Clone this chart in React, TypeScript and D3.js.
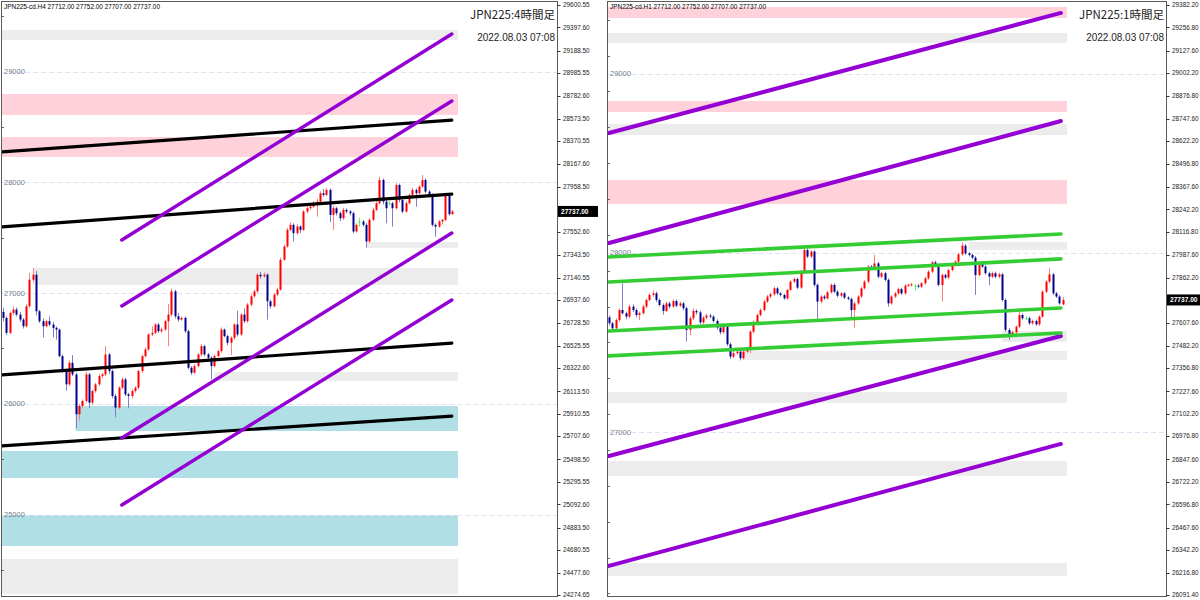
import React from 'react';
import * as d3 from 'd3';

type Candle = [number, number, number, number]; // open, high, low, close

// ---------------- H4 (left) ----------------
const H4_CANDLES: Candle[] = [
  [26830, 26866, 26745, 26776], [26776, 26790, 26620, 26641], [26641, 26835, 26630, 26821], [26821, 26880, 26800, 26851],
  [26851, 26870, 26790, 26806], [26806, 26830, 26740, 26761], [26761, 26775, 26680, 26701], [26701, 26900, 26690, 26881],
  [26881, 27180, 26870, 27121], [27121, 27226, 27100, 27166], [27166, 27200, 26800, 26836], [26836, 26850, 26730, 26746],
  [26746, 26770, 26600, 26701], [26701, 26760, 26690, 26746], [26746, 26790, 26700, 26716], [26716, 26740, 26600, 26686],
  [26686, 26700, 26580, 26671], [26671, 26680, 26420, 26431], [26431, 26445, 26280, 26296], [26296, 26310, 26120, 26176],
  [26176, 26390, 26160, 26371], [26371, 26440, 26250, 26266], [26266, 26280, 25780, 25906], [25906, 26000, 25850, 25981],
  [25981, 26040, 25960, 26026], [26026, 26290, 26010, 26266], [26266, 26280, 25960, 26011], [26011, 26130, 25990, 26116],
  [26116, 26190, 26100, 26176], [26176, 26270, 26160, 26251], [26251, 26280, 26230, 26266], [26266, 26520, 26250, 26446],
  [26446, 26460, 26270, 26296], [26296, 26310, 26050, 26071], [26071, 26090, 25880, 25966], [25966, 26160, 25950, 26146],
  [26146, 26240, 26130, 26221], [26221, 26235, 26070, 26086], [26086, 26100, 25960, 26071], [26071, 26130, 26050, 26116],
  [26116, 26160, 26100, 26146], [26146, 26310, 26130, 26296], [26296, 26445, 26280, 26431], [26431, 26510, 26420, 26491],
  [26491, 26640, 26480, 26626], [26626, 26700, 26610, 26641], [26641, 26730, 26630, 26716], [26716, 26730, 26640, 26656],
  [26656, 26690, 26640, 26671], [26671, 26760, 26660, 26746], [26746, 26900, 26520, 26806], [26806, 27040, 26790, 27016],
  [27016, 27030, 26770, 26791], [26791, 26820, 26740, 26761], [26761, 26790, 26750, 26776], [26776, 26790, 26640, 26656],
  [26656, 26670, 26310, 26326], [26326, 26340, 26260, 26281], [26281, 26360, 26270, 26341], [26341, 26460, 26330, 26446],
  [26446, 26540, 26430, 26521], [26521, 26535, 26430, 26446], [26446, 26460, 26400, 26416], [26416, 26430, 26220, 26341],
  [26341, 26445, 26330, 26431], [26431, 26490, 26420, 26476], [26476, 26690, 26460, 26671], [26671, 26680, 26600, 26611],
  [26611, 26625, 26530, 26551], [26551, 26610, 26440, 26596], [26596, 26730, 26580, 26716], [26716, 26840, 26610, 26626],
  [26626, 26820, 26610, 26806], [26806, 26860, 26730, 26746], [26746, 26910, 26730, 26896], [26896, 26990, 26880, 26971],
  [26971, 27030, 26960, 27016], [27016, 27180, 27000, 27166], [27166, 27190, 27130, 27151], [27151, 27185, 27140, 27166],
  [27166, 27180, 26760, 26926], [26926, 26940, 26860, 26881], [26881, 27000, 26870, 26986], [26986, 27050, 26970, 27031],
  [27031, 27320, 27020, 27301], [27301, 27440, 27290, 27421], [27421, 27590, 27410, 27571], [27571, 27640, 27560, 27616],
  [27616, 27630, 27466, 27541], [27541, 27620, 27530, 27601], [27601, 27615, 27540, 27571], [27571, 27750, 27560, 27736],
  [27736, 27790, 27720, 27766], [27766, 27800, 27750, 27781], [27781, 27830, 27770, 27811], [27811, 27850, 27690, 27826],
  [27826, 27920, 27810, 27901], [27901, 27940, 27870, 27886], [27886, 27950, 27875, 27931], [27931, 27945, 27640, 27706],
  [27706, 27790, 27570, 27766], [27766, 27780, 27700, 27721], [27721, 27735, 27650, 27676], [27676, 27770, 27660, 27751],
  [27751, 27765, 27720, 27736], [27736, 27750, 27700, 27721], [27721, 27735, 27540, 27556], [27556, 27630, 27545, 27616],
  [27646, 27680, 27600, 27646], [27646, 27660, 27600, 27616], [27616, 27630, 27410, 27466], [27466, 27680, 27450, 27661],
  [27661, 27770, 27650, 27751], [27751, 27830, 27740, 27811], [27811, 28050, 27800, 28021], [28021, 28035, 27800, 27826],
  [27826, 27840, 27630, 27766], [27811, 27830, 27790, 27811], [27811, 27825, 27600, 27766], [27766, 27990, 27755, 27976],
  [27976, 27990, 27820, 27841], [27841, 27855, 27720, 27736], [27736, 27830, 27725, 27811], [27811, 27900, 27800, 27886],
  [27886, 27950, 27875, 27931], [27931, 27945, 27780, 27901], [27901, 27975, 27890, 27961], [27961, 28066, 27950, 28021],
  [28021, 28035, 27900, 27916], [27916, 27930, 27870, 27886], [27886, 27900, 27600, 27616], [27616, 27630, 27510, 27601],
  [27601, 27660, 27590, 27646], [27646, 27670, 27620, 27661], [27661, 27900, 27650, 27880], [27880, 27895, 27700, 27712],
  [27712, 27752, 27707, 27737],
];

const H4_PRICE_TICKS = [29600.55, 29397.60, 29188.50, 28985.55, 28782.60, 28573.50, 28370.55, 28167.60, 27958.50,
  27552.60, 27343.50, 27140.55, 26937.60, 26728.50, 26525.55, 26322.60, 26113.50, 25910.55, 25707.60, 25498.50,
  25295.55, 25092.60, 24883.50, 24680.55, 24477.60, 24274.65];
const H4_GRID = [29000, 28000, 27000, 26000, 25000];
const H4_EDGE_TICKS = [29500, 28500, 27500, 26500, 25500, 24500];
const H4_ZONE_LOW = [29285, 28608, 28229, 27407, 27073, 26207, 25755, 25331, 24717, 24285];
const H4_ZONE_HIGH = [29375, 28797, 28409, 27461, 27226, 26288, 25981, 25575, 24997, 24600];
const H4_ZONE_FROM = [-1, -1, -1, 110, 9, 64, 22, -1, -1, -1];
const H4_ZONE_KIND = ['neutral', 'supply', 'supply', 'neutral', 'neutral', 'neutral', 'demand', 'demand', 'demand', 'neutral'];
// trend lines: [startIndex, startPrice, endIndex, endPrice]
const H4_LEVEL_LINES: [number, number, number, number][] = [
  [-1, 28274, 136, 28562], [-1, 27597, 136, 27894], [-1, 26261, 136, 26549], [-1, 25620, 136, 25890],
];
const H4_CHANNEL_LINES: [number, number, number, number][] = [
  [36, 27479, 136, 29339], [36, 26884, 136, 28734], [36, 25692, 136, 27542], [36, 25087, 136, 26938],
];

// ---------------- H1 (right) ----------------
const H1_CANDLES: Candle[] = [
  [27640, 27650, 27595, 27607], [27607, 27615, 27560, 27579], [27579, 27635, 27570, 27625], [27625, 27690, 27615, 27681],
  [27681, 27830, 27655, 27663], [27663, 27672, 27630, 27644], [27644, 27710, 27635, 27700], [27700, 27712, 27670, 27681],
  [27681, 27690, 27640, 27653], [27653, 27672, 27625, 27663], [27663, 27710, 27655, 27700], [27700, 27745, 27690, 27737],
  [27737, 27775, 27728, 27765], [27765, 27790, 27755, 27774], [27774, 27784, 27725, 27737], [27737, 27745, 27700, 27709],
  [27709, 27718, 27655, 27676], [27676, 27728, 27668, 27718], [27718, 27728, 27690, 27700], [27700, 27740, 27692, 27731],
  [27731, 27740, 27695, 27705], [27705, 27728, 27698, 27718], [27718, 27726, 27680, 27691], [27691, 27700, 27505, 27570],
  [27570, 27645, 27540, 27635], [27635, 27690, 27625, 27676], [27676, 27685, 27655, 27668], [27668, 27678, 27600, 27612],
  [27612, 27648, 27602, 27638], [27638, 27660, 27628, 27650], [27650, 27660, 27635, 27644], [27644, 27652, 27610, 27620],
  [27620, 27628, 27570, 27583], [27583, 27592, 27545, 27557], [27557, 27598, 27548, 27588], [27588, 27596, 27480, 27490],
  [27490, 27500, 27408, 27421], [27421, 27455, 27412, 27440], [27440, 27460, 27430, 27449], [27449, 27458, 27400, 27412],
  [27412, 27458, 27405, 27449], [27449, 27468, 27440, 27458], [27458, 27570, 27440, 27560], [27560, 27622, 27550, 27612],
  [27612, 27662, 27602, 27653], [27653, 27690, 27645, 27681], [27681, 27738, 27672, 27728], [27728, 27765, 27720, 27756],
  [27756, 27778, 27748, 27769], [27769, 27812, 27760, 27802], [27802, 27810, 27765, 27774], [27774, 27782, 27756, 27765],
  [27765, 27772, 27738, 27746], [27746, 27800, 27738, 27793], [27793, 27848, 27785, 27839], [27839, 27862, 27830, 27854],
  [27854, 27862, 27798, 27806], [27806, 27905, 27798, 27895], [27895, 28044, 27885, 28016], [28016, 28026, 27970, 27979],
  [27979, 28015, 27970, 28007], [28007, 28015, 27812, 27821], [27821, 27830, 27616, 27728], [27728, 27765, 27720, 27756],
  [27756, 27765, 27738, 27746], [27746, 27790, 27738, 27780], [27780, 27830, 27772, 27821], [27821, 27830, 27775, 27783],
  [27783, 27792, 27752, 27761], [27761, 27782, 27752, 27774], [27774, 27782, 27742, 27750], [27750, 27758, 27735, 27743],
  [27743, 27750, 27635, 27681], [27681, 27725, 27579, 27718], [27718, 27765, 27710, 27756], [27756, 27810, 27748, 27802],
  [27802, 27848, 27795, 27839], [27839, 27932, 27830, 27923], [27923, 27932, 27905, 27914], [27914, 27988, 27905, 27941],
  [27941, 27950, 27858, 27867], [27867, 27895, 27858, 27886], [27886, 27895, 27840, 27849], [27849, 27858, 27700, 27718],
  [27718, 27765, 27710, 27756], [27756, 27782, 27748, 27774], [27774, 27806, 27765, 27798], [27798, 27806, 27765, 27774],
  [27774, 27826, 27765, 27817], [27817, 27830, 27808, 27821], [27821, 27833, 27812, 27824], [27817, 27826, 27790, 27817],
  [27817, 27826, 27802, 27811], [27811, 27838, 27802, 27830], [27830, 27866, 27822, 27858], [27858, 27904, 27850, 27895],
  [27895, 27956, 27886, 27947], [27947, 27956, 27920, 27928], [27928, 27936, 27812, 27821], [27821, 27885, 27728, 27876],
  [27876, 27884, 27853, 27862], [27862, 27912, 27853, 27904], [27904, 27940, 27896, 27932], [27932, 27960, 27924, 27951],
  [27951, 28000, 27942, 27992], [27992, 28059, 27984, 28040], [28040, 28048, 27988, 27997], [27997, 28006, 27980, 27988],
  [27988, 27996, 27965, 27973], [27973, 27982, 27765, 27876], [27876, 27950, 27868, 27941], [27941, 27950, 27915, 27923],
  [27923, 27932, 27878, 27886], [27886, 27895, 27820, 27867], [27867, 27895, 27858, 27886], [27886, 27895, 27858, 27867],
  [27867, 27889, 27858, 27880], [27880, 27888, 27728, 27737], [27737, 27745, 27560, 27570], [27570, 27580, 27514, 27542],
  [27542, 27566, 27533, 27557], [27557, 27596, 27548, 27588], [27588, 27680, 27580, 27653], [27653, 27662, 27626, 27635],
  [27635, 27645, 27625, 27635], [27635, 27644, 27598, 27607], [27607, 27628, 27598, 27620], [27620, 27628, 27592, 27601],
  [27601, 27652, 27592, 27644], [27644, 27792, 27636, 27783], [27783, 27848, 27775, 27839], [27839, 27914, 27830, 27880],
  [27880, 27888, 27765, 27774], [27774, 27782, 27748, 27756], [27756, 27765, 27710, 27718], [27712, 27752, 27707, 27737],
];

const H1_PRICE_TICKS = [29382.20, 29256.80, 29127.60, 29002.20, 28876.80, 28747.60, 28622.20, 28496.80, 28367.60,
  28242.20, 28116.80, 27987.60, 27862.20, 27607.60, 27482.20, 27356.80, 27227.60, 27102.20, 26976.80, 26847.60,
  26722.20, 26596.80, 26467.60, 26342.20, 26216.80, 26091.40];
const H1_GRID = [29000, 28000, 27000];
const H1_EDGE_TICKS = [29300, 29100, 28900, 28700, 28500, 28300, 28100, 27900, 27700, 27500, 27300, 27100, 26900,
  26700, 26500, 26300, 26100];
const H1_ZONE_LOW = [29310, 29170, 28785, 28657, 28272, 28016, 27503, 27402, 27163, 26756, 26198];
const H1_ZONE_HIGH = [29371, 29226, 28847, 28719, 28406, 28061, 27564, 27453, 27224, 26839, 26270];
const H1_ZONE_FROM = [-1, -1, -1, -1, -1, 107, 117, 40, -1, -1, -1];
const H1_ZONE_KIND = ['supply', 'neutral', 'supply', 'neutral', 'supply', 'neutral', 'neutral', 'neutral', 'neutral', 'neutral', 'neutral'];
const H1_CHANNEL_LINES: [number, number, number, number][] = [
  [0, 28668, 134.5, 29338], [0, 28055, 134.5, 28735], [0, 26867, 134.5, 27536], [0, 26254, 134.5, 26934],
];
const H1_BAND_LINES: [number, number, number, number][] = [
  [0, 27977, 134.5, 28105], [0, 27837, 134.5, 27966], [0, 27564, 134.5, 27692], [0, 27425, 134.5, 27553],
];

const SYMBOL_HEADER_H4 = 'JPN225-cd.H4  27712.00 27752.00 27707.00 27737.00';
const SYMBOL_HEADER_H1 = 'JPN225-cd.H1  27712.00 27752.00 27707.00 27737.00';
const TITLE_H4 = 'JPN225:4時間足';
const TITLE_H1 = 'JPN225:1時間足';
const TIMESTAMP = '2022.08.03 07:08';
const LAST_PRICE = 27737.0;

const ZONE_COLORS: Record<string, string> = { supply: '#ffd1da', demand: '#b0dfe5', neutral: '#ececec' };

type PanelProps = {
  left: number; right: number; top: number; bottom: number;
  candleX0: number; candleStep: number; zoneEnd: number;
  yTop: number; yBottom: number;
  candles: Candle[]; ticks: number[]; grid: number[]; edgeTicks: number[];
  zoneLow: number[]; zoneHigh: number[]; zoneFrom: number[]; zoneKind: string[];
  lines: { coords: [number, number, number, number][]; color: string; width: number }[];
  header: string; headerLen: number; title: string; id: string;
};

function Panel(p: PanelProps) {
  const y = d3.scaleLinear().domain([p.yBottom, p.yTop]).range([595, 5]);
  const x = d3.scaleLinear().domain([0, 1]).range([p.candleX0, p.candleX0 + p.candleStep]);
  const clipId = 'clip-' + p.id;
  const fmt = d3.format('.2f');
  return (
    <g>
      <defs>
        <clipPath id={clipId}>
          <rect x={p.left + 1} y={p.top + 1} width={p.right - p.left - 1} height={p.bottom - p.top - 1} />
        </clipPath>
      </defs>
      <g clipPath={`url(#${clipId})`}>
        {p.zoneLow.map((lo, i) => {
          const x0 = p.zoneFrom[i] < 0 ? p.left : x(p.zoneFrom[i]);
          return (
            <rect key={'z' + i} x={x0} width={p.zoneEnd - x0} y={y(p.zoneHigh[i])}
              height={y(p.zoneLow[i]) - y(p.zoneHigh[i])} fill={ZONE_COLORS[p.zoneKind[i]]} />
          );
        })}
        {p.grid.map((g) => (
          <g key={'g' + g}>
            <line x1={p.left} x2={p.right} y1={Math.round(y(g)) + 0.5} y2={Math.round(y(g)) + 0.5}
              stroke="#e2e2f4" strokeDasharray="5,3" />
            <text x={p.left + 3} y={y(g)} dy="0.35em" fontSize={7.5} fill="#6f7f8f"
              fontFamily="Liberation Sans, Arial, sans-serif">{g}</text>
          </g>
        ))}
        {p.edgeTicks.map((t) => (
          <line key={'e' + t} x1={p.left} x2={p.left + 3} y1={Math.round(y(t)) + 0.5} y2={Math.round(y(t)) + 0.5}
            stroke="#666" />
        ))}
        {p.candles.map((c, i) => {
          const [o, h, l, cl] = c;
          const cx = Math.round(x(i));
          const up = cl > o;
          const doji = cl === o;
          const bodyColor = doji ? '#33ee33' : up ? '#ff0000' : '#00008b';
          const wickColor = doji ? '#66ee66' : up ? '#ff7f7f' : '#7f7fc8';
          const yt = y(Math.max(o, cl));
          const yb = y(Math.min(o, cl));
          return (
            <g key={'c' + i}>
              <line x1={cx + 0.5} x2={cx + 0.5} y1={y(h)} y2={y(l)} stroke={wickColor} strokeWidth={1} />
              <rect x={cx - 0.5} width={2} y={yt} height={Math.max(1, yb - yt)} fill={bodyColor} />
            </g>
          );
        })}
        {p.lines.map((set, si) =>
          set.coords.map((ln, li) => (
            <line key={'l' + si + '-' + li} x1={x(ln[0])} y1={y(ln[1])} x2={x(ln[2])} y2={y(ln[3])}
              stroke={set.color} strokeWidth={set.width} strokeLinecap="round" />
          ))
        )}
      </g>
      <rect x={p.left + 0.5} y={p.top + 0.5} width={p.right - p.left} height={p.bottom - p.top}
        fill="none" stroke="#5a5a5a" strokeWidth={1} />
      <text x={p.left + 3} y={p.top + 7.5} fontSize={7} textLength={p.headerLen} lengthAdjust="spacingAndGlyphs"
        fontFamily="Liberation Sans, Arial, sans-serif" fill="#000">{p.header}</text>
      <text x={p.right - 2} y={p.top + 18} fontSize={11.5} textAnchor="end" fill="#222"
        fontFamily="Noto Sans CJK JP, sans-serif">{p.title}</text>
      <text x={p.right - 2} y={p.top + 40} fontSize={10} textAnchor="end" fill="#222"
        fontFamily="Liberation Sans, Arial, sans-serif">{TIMESTAMP}</text>
      {p.ticks.map((t) => (
        <g key={'t' + t}>
          <line x1={p.right + 0.5} x2={p.right + 3.5} y1={Math.round(y(t)) + 0.5} y2={Math.round(y(t)) + 0.5} stroke="#333" />
          <text x={p.right + 6} y={y(t)} dy="0.35em" fontSize={6.4} fill="#222"
            fontFamily="Liberation Sans, Arial, sans-serif">{fmt(t)}</text>
        </g>
      ))}
      <rect x={p.right + 1} y={y(LAST_PRICE) - 5.5} width={40} height={11} fill="#000" />
      <text x={p.right + 4} y={y(LAST_PRICE)} dy="0.35em" fontSize={6.6} fill="#fff" fontWeight="bold"
        fontFamily="Liberation Sans, Arial, sans-serif">{fmt(LAST_PRICE)}</text>
    </g>
  );
}

export default function App() {
  return (
    <svg width={1200} height={600} style={{ position: 'absolute', left: 0, top: 0, background: '#fff' }}>
      <rect x={0} y={0} width={1200} height={600} fill="#fff" />
      <Panel id="h4" left={1} right={557} top={1} bottom={596}
        candleX0={3} candleStep={3.3} zoneEnd={458}
        yTop={29600.55} yBottom={24274.65}
        candles={H4_CANDLES} ticks={H4_PRICE_TICKS} grid={H4_GRID} edgeTicks={H4_EDGE_TICKS}
        zoneLow={H4_ZONE_LOW} zoneHigh={H4_ZONE_HIGH} zoneFrom={H4_ZONE_FROM} zoneKind={H4_ZONE_KIND}
        lines={[
          { coords: H4_LEVEL_LINES, color: '#000000', width: 3.2 },
          { coords: H4_CHANNEL_LINES, color: '#9400d3', width: 3.4 },
        ]}
        header={SYMBOL_HEADER_H4} headerLen={156} title={TITLE_H4} />
      <Panel id="h1" left={607} right={1166} top={1} bottom={596}
        candleX0={609} candleStep={3.36} zoneEnd={1067}
        yTop={29382.2} yBottom={26091.4}
        candles={H1_CANDLES} ticks={H1_PRICE_TICKS} grid={H1_GRID} edgeTicks={H1_EDGE_TICKS}
        zoneLow={H1_ZONE_LOW} zoneHigh={H1_ZONE_HIGH} zoneFrom={H1_ZONE_FROM} zoneKind={H1_ZONE_KIND}
        lines={[
          { coords: H1_CHANNEL_LINES, color: '#9400d3', width: 4 },
          { coords: H1_BAND_LINES, color: '#33cc33', width: 3.6 },
        ]}
        header={SYMBOL_HEADER_H1} headerLen={156} title={TITLE_H1} />
    </svg>
  );
}
